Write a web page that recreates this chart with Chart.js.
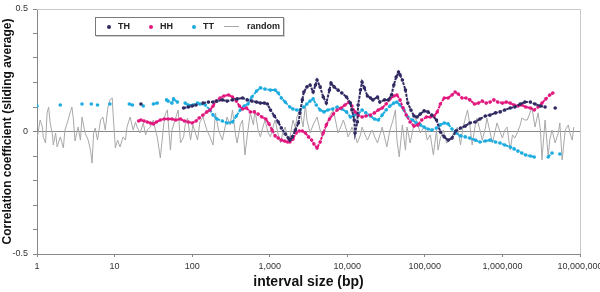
<!DOCTYPE html>
<html><head><meta charset="utf-8">
<script src="https://cdn.jsdelivr.net/npm/chart.js@4.4.1/dist/chart.umd.min.js"></script>
<style>
html,body{margin:0;padding:0;background:#fff;}
#wrap{position:relative;width:600px;height:292px;}
#legend{position:absolute;left:95px;top:17px;width:187px;height:17px;border:1px solid #7a7a7a;background:#fff;box-shadow:1px 1px 0 #d0d0d0;font:bold 9px 'Liberation Sans',Arial,sans-serif;color:#222;}
.item{position:absolute;top:0;height:17px;line-height:17px;white-space:nowrap;}
.dot{display:inline-block;width:4px;height:4px;border-radius:50%;vertical-align:middle;margin-right:7px;}
.ln{display:inline-block;width:15px;height:1px;vertical-align:middle;margin-right:8px;}
</style></head>
<body><div id="wrap"><canvas id="c" width="600" height="292"></canvas><div id="legend"></div></div>
<script>
const seriesNames = ['TH', 'HH', 'TT', 'random'];
const seriesColors = ['#2f2a62', '#e2187f', '#1dace0', '#a8a8a8'];
const xTickValues = [1, 10, 100, 1000, 10000, 100000, 1000000, 10000000];
const yTickLabels = [-0.5, 0, 0.5];

// each point: [log10(interval size, bp), correlation coefficient]
const thPoints = [[1.34,0.112],[1.89,0.096],[1.95,0.100],[2.00,0.104],[2.05,0.108],[2.14,0.116],[2.21,0.120],[2.27,0.120],[2.32,0.124],[2.39,0.129],[2.45,0.124],[2.52,0.129],[2.58,0.133],[2.65,0.137],[2.71,0.129],[2.77,0.124],[2.83,0.120],[2.88,0.116],[2.93,0.116],[2.97,0.112],[3.01,0.088],[3.06,0.063],[3.11,0.039],[3.15,0.014],[3.20,-0.010],[3.24,-0.027],[3.26,-0.035],[3.29,-0.022],[3.33,0.006],[3.37,0.035],[3.39,0.076],[3.42,0.129],[3.44,0.161],[3.48,0.182],[3.52,0.190],[3.56,0.161],[3.59,0.190],[3.61,0.210],[3.65,0.182],[3.69,0.141],[3.73,0.116],[3.77,0.169],[3.79,0.198],[3.83,0.182],[3.88,0.169],[3.93,0.157],[3.99,0.141],[4.04,0.116],[4.06,0.088],[4.09,0.047],[4.10,-0.006],[4.13,0.039],[4.14,0.108],[4.17,0.169],[4.19,0.202],[4.22,0.178],[4.26,0.145],[4.30,0.137],[4.33,0.129],[4.39,0.141],[4.42,0.120],[4.48,0.129],[4.53,0.129],[4.57,0.149],[4.60,0.190],[4.63,0.222],[4.66,0.243],[4.68,0.231],[4.71,0.210],[4.75,0.169],[4.78,0.116],[4.82,0.088],[4.86,0.063],[4.90,0.059],[4.94,0.071],[4.99,0.084],[5.04,0.080],[5.09,0.067],[5.15,0.047],[5.20,-0.002],[5.25,-0.022],[5.30,-0.035],[5.35,-0.027],[5.40,0.002],[5.46,0.014],[5.52,0.022],[5.58,0.035],[5.65,0.039],[5.71,0.051],[5.78,0.063],[5.84,0.067],[5.91,0.076],[5.97,0.080],[6.03,0.088],[6.10,0.096],[6.16,0.100],[6.23,0.112],[6.29,0.120],[6.36,0.120],[6.42,0.112],[6.49,0.104],[6.55,0.100],[6.68,0.096]];

const hhPoints = [[1.31,0.043],[1.34,0.047],[1.38,0.043],[1.42,0.039],[1.46,0.035],[1.50,0.031],[1.54,0.039],[1.59,0.047],[1.64,0.051],[1.69,0.051],[1.74,0.051],[1.79,0.047],[1.85,0.051],[1.90,0.043],[1.95,0.039],[2.00,0.035],[2.05,0.043],[2.09,0.055],[2.14,0.067],[2.19,0.080],[2.23,0.088],[2.27,0.104],[2.31,0.124],[2.36,0.137],[2.41,0.145],[2.47,0.149],[2.52,0.141],[2.57,0.124],[2.61,0.104],[2.65,0.092],[2.70,0.096],[2.75,0.080],[2.80,0.080],[2.85,0.071],[2.90,0.059],[2.95,0.051],[2.99,0.031],[3.03,0.006],[3.07,-0.018],[3.11,-0.027],[3.15,-0.035],[3.19,-0.039],[3.23,-0.043],[3.26,-0.043],[3.30,-0.031],[3.34,-0.006],[3.38,0.002],[3.42,0.002],[3.46,-0.006],[3.50,-0.022],[3.54,-0.035],[3.57,-0.051],[3.61,-0.067],[3.65,-0.043],[3.69,-0.006],[3.73,0.027],[3.77,0.051],[3.82,0.071],[3.87,0.088],[3.92,0.096],[3.97,0.108],[4.02,0.120],[4.06,0.104],[4.10,0.080],[4.14,0.067],[4.19,0.059],[4.24,0.063],[4.30,0.067],[4.35,0.076],[4.40,0.088],[4.45,0.096],[4.50,0.112],[4.55,0.133],[4.60,0.145],[4.64,0.149],[4.68,0.129],[4.72,0.096],[4.76,0.067],[4.81,0.039],[4.86,0.022],[4.91,0.027],[4.96,0.047],[5.02,0.059],[5.07,0.059],[5.12,0.063],[5.16,0.080],[5.20,0.112],[5.25,0.137],[5.30,0.137],[5.35,0.149],[5.39,0.161],[5.43,0.153],[5.48,0.137],[5.53,0.137],[5.58,0.129],[5.64,0.112],[5.69,0.116],[5.74,0.124],[5.79,0.116],[5.84,0.120],[5.89,0.129],[5.94,0.120],[6.00,0.116],[6.05,0.120],[6.10,0.116],[6.15,0.108],[6.20,0.104],[6.25,0.108],[6.30,0.100],[6.36,0.096],[6.41,0.088],[6.46,0.100],[6.51,0.116],[6.56,0.133],[6.61,0.149],[6.65,0.157]];

const ttPoints = [[0.00,0.104],[0.30,0.108],[0.58,0.112],[0.70,0.112],[0.78,0.108],[0.94,0.112],[1.19,0.112],[1.23,0.108],[1.37,0.104],[1.50,0.112],[1.55,0.116],[1.67,0.129],[1.69,0.124],[1.74,0.116],[1.76,0.133],[1.81,0.120],[1.91,0.116],[1.95,0.108],[2.01,0.108],[2.07,0.116],[2.10,0.112],[2.17,0.108],[2.23,0.088],[2.27,0.067],[2.32,0.051],[2.39,0.043],[2.45,0.035],[2.52,0.039],[2.57,0.063],[2.62,0.088],[2.67,0.104],[2.72,0.112],[2.77,0.141],[2.83,0.165],[2.88,0.178],[2.94,0.173],[3.01,0.169],[3.07,0.169],[3.11,0.157],[3.15,0.137],[3.20,0.120],[3.26,0.100],[3.30,0.092],[3.35,0.088],[3.39,0.088],[3.44,0.100],[3.48,0.112],[3.52,0.124],[3.56,0.133],[3.60,0.108],[3.65,0.088],[3.70,0.080],[3.75,0.088],[3.81,0.092],[3.87,0.100],[3.93,0.092],[3.99,0.080],[4.04,0.059],[4.09,0.067],[4.14,0.071],[4.19,0.088],[4.24,0.076],[4.30,0.063],[4.35,0.051],[4.40,0.047],[4.45,0.067],[4.50,0.088],[4.55,0.104],[4.60,0.116],[4.64,0.120],[4.68,0.108],[4.73,0.088],[4.78,0.059],[4.84,0.047],[4.89,0.035],[4.94,0.027],[4.99,0.018],[5.04,0.010],[5.09,0.006],[5.15,0.014],[5.20,0.027],[5.25,0.035],[5.30,0.031],[5.35,0.010],[5.40,-0.006],[5.46,-0.018],[5.52,-0.022],[5.58,-0.027],[5.65,-0.035],[5.71,-0.043],[5.78,-0.039],[5.84,-0.035],[5.91,-0.043],[5.97,-0.047],[6.03,-0.055],[6.10,-0.063],[6.15,-0.071],[6.20,-0.080],[6.25,-0.088],[6.30,-0.096],[6.36,-0.100],[6.41,-0.104],[6.59,-0.104],[6.64,-0.088],[6.74,-0.092]];

const randomPoints = [[0.00,-0.027],[0.02,0.006],[0.04,0.047],[0.07,0.018],[0.08,-0.022],[0.11,-0.047],[0.13,0.076],[0.15,0.100],[0.17,0.035],[0.20,-0.014],[0.21,-0.055],[0.24,-0.006],[0.26,-0.063],[0.30,-0.022],[0.34,-0.067],[0.36,0.006],[0.39,0.035],[0.43,0.080],[0.45,0.100],[0.47,0.047],[0.49,-0.039],[0.52,0.006],[0.53,0.018],[0.56,-0.035],[0.58,0.059],[0.62,-0.006],[0.66,-0.035],[0.69,-0.076],[0.71,-0.129],[0.73,-0.006],[0.75,0.014],[0.78,-0.035],[0.82,0.047],[0.85,0.059],[0.88,0.006],[0.91,0.088],[0.92,0.108],[0.94,0.129],[0.97,0.137],[0.98,0.076],[1.01,-0.067],[1.04,-0.035],[1.07,-0.063],[1.11,-0.022],[1.14,-0.035],[1.16,0.018],[1.20,0.059],[1.24,0.006],[1.27,0.039],[1.29,0.018],[1.33,-0.006],[1.37,0.035],[1.40,-0.014],[1.42,0.006],[1.46,0.018],[1.50,0.047],[1.52,0.014],[1.55,-0.022],[1.59,-0.108],[1.63,0.018],[1.65,0.067],[1.68,0.088],[1.72,-0.076],[1.74,0.006],[1.78,0.047],[1.82,0.088],[1.85,-0.047],[1.89,-0.022],[1.91,0.027],[1.94,0.055],[1.98,-0.035],[2.01,0.027],[2.07,-0.035],[2.10,0.039],[2.14,0.059],[2.19,0.006],[2.23,-0.022],[2.27,-0.055],[2.30,0.076],[2.34,0.006],[2.39,-0.035],[2.43,0.027],[2.45,0.059],[2.49,0.027],[2.52,0.088],[2.56,-0.014],[2.58,-0.047],[2.62,0.027],[2.65,0.047],[2.68,-0.096],[2.72,0.006],[2.75,0.076],[2.79,0.027],[2.81,0.088],[2.85,0.006],[2.88,-0.022],[2.92,0.027],[2.94,0.047],[2.98,-0.006],[3.01,-0.022],[3.05,0.027],[3.07,0.047],[3.11,-0.014],[3.14,-0.047],[3.17,-0.002],[3.20,0.018],[3.24,-0.035],[3.26,-0.022],[3.30,0.047],[3.33,0.014],[3.35,0.059],[3.39,0.088],[3.43,0.018],[3.46,0.108],[3.48,0.047],[3.52,-0.006],[3.56,0.027],[3.61,0.059],[3.65,0.006],[3.68,-0.022],[3.72,0.014],[3.74,0.035],[3.78,0.067],[3.82,0.088],[3.86,0.027],[3.88,-0.006],[3.91,0.014],[3.95,0.047],[3.99,0.006],[4.01,-0.022],[4.04,-0.002],[4.06,0.018],[4.10,-0.014],[4.13,-0.047],[4.17,-0.014],[4.19,0.018],[4.23,-0.014],[4.26,-0.035],[4.30,-0.006],[4.32,0.006],[4.36,-0.027],[4.39,-0.047],[4.42,-0.014],[4.45,0.018],[4.49,-0.035],[4.51,-0.063],[4.55,0.006],[4.59,0.047],[4.62,0.088],[4.64,-0.035],[4.67,-0.104],[4.71,0.027],[4.75,-0.076],[4.77,0.018],[4.81,-0.047],[4.85,0.014],[4.88,0.059],[4.91,0.027],[4.94,-0.006],[4.98,0.014],[5.00,0.018],[5.03,-0.035],[5.07,-0.014],[5.11,-0.096],[5.15,0.006],[5.17,-0.076],[5.20,-0.027],[5.24,0.006],[5.28,-0.047],[5.33,-0.035],[5.37,-0.006],[5.42,0.018],[5.46,-0.055],[5.49,0.014],[5.55,0.088],[5.58,0.027],[5.61,-0.055],[5.65,0.027],[5.67,0.055],[5.71,0.006],[5.74,-0.035],[5.78,0.014],[5.80,0.055],[5.84,-0.002],[5.87,-0.047],[5.91,0.006],[5.93,0.035],[5.97,-0.002],[6.00,-0.027],[6.03,0.006],[6.06,0.018],[6.10,-0.076],[6.13,-0.014],[6.16,-0.027],[6.19,-0.006],[6.23,0.027],[6.25,0.055],[6.29,0.047],[6.32,0.047],[6.36,0.080],[6.38,0.100],[6.42,0.018],[6.46,0.076],[6.49,0.006],[6.51,-0.116],[6.55,0.047],[6.59,-0.104],[6.61,-0.035],[6.64,0.006],[6.68,-0.047],[6.72,-0.006],[6.74,0.035],[6.77,-0.116],[6.81,0.006],[6.85,0.027],[6.87,-0.006],[6.90,-0.035],[6.92,0.018]];

const toXY = pts => pts.map(p => ({ x: Math.pow(10, p[0]), y: p[1] }));
const FONT = "'Liberation Sans', Arial, sans-serif";
const gapSeg = { borderColor: ctx => (ctx.p1.parsed.x / ctx.p0.parsed.x > 1.2 ? 'rgba(0,0,0,0)' : undefined) };

function markerSet(i, pts, order) {
  return {
    label: seriesNames[i], data: toXY(pts), showLine: true,
    borderColor: seriesColors[i], backgroundColor: seriesColors[i],
    borderWidth: 2, pointRadius: 1.8, pointBorderWidth: 0, pointHoverRadius: 1.8,
    borderDash: [3, 1],
    segment: gapSeg, order: order
  };
}

const frame = {
  id: 'frame',
  beforeDatasetsDraw(chart) {
    const { ctx, chartArea: a } = chart;
    ctx.save();
    ctx.strokeStyle = '#c8c8c8'; ctx.lineWidth = 1;
    ctx.beginPath();
    ctx.moveTo(a.left, Math.round(a.top) + 0.5);
    ctx.lineTo(Math.round(a.right) + 0.5, Math.round(a.top) + 0.5);
    ctx.lineTo(Math.round(a.right) + 0.5, a.bottom);
    ctx.stroke();
    ctx.restore();
  }
};

new Chart(document.getElementById('c'), {
  type: 'scatter',
  data: {
    datasets: [
      markerSet(0, thPoints, 1),
      markerSet(1, hhPoints, 2),
      markerSet(2, ttPoints, 3),
      { label: seriesNames[3], data: toXY(randomPoints), showLine: true, borderColor: seriesColors[3],
        borderWidth: 1, pointRadius: 0, pointHoverRadius: 0, order: 10 }
    ]
  },
  options: {
    responsive: false, animation: false, devicePixelRatio: 1,
    layout: { padding: { left: 0, right: 20, top: 9, bottom: 0 } },
    plugins: { legend: { display: false }, tooltip: { enabled: false } },
    scales: {
      x: {
        type: 'logarithmic', min: 1, max: 10000000,
        afterBuildTicks: s => { s.ticks = xTickValues.map(v => ({ value: v, major: true })); },
        afterFit: s => { s.height = 38; s.paddingLeft = 0; s.paddingRight = 0; },
        ticks: { autoSkip: false, maxRotation: 0, padding: 4, color: '#333', font: { family: FONT, size: 9 },
          callback: v => Number(v).toLocaleString('en-US') },
        grid: { drawOnChartArea: false, tickLength: 3, tickColor: '#888' },
        border: { color: '#888', width: 1 },
        title: { display: true, text: 'interval size (bp)', color: '#111', padding: { top: 0, bottom: 1 },
          font: { family: FONT, size: 14, weight: 'bold' } }
      },
      y: {
        min: -0.5, max: 0.5,
        afterBuildTicks: s => { s.ticks = [-0.5,-0.4,-0.3,-0.2,-0.1,0,0.1,0.2,0.3,0.4,0.5].map(v => ({ value: v })); },
        afterFit: s => { s.width = 37; s.paddingTop = 0; s.paddingBottom = 0; },
        ticks: { autoSkip: false, padding: 5, color: '#333', font: { family: FONT, size: 9 },
          callback: v => { const m = yTickLabels.find(t => Math.abs(t - v) < 1e-9); return m === undefined ? '' : String(m); } },
        grid: { drawOnChartArea: true, tickLength: 4, tickColor: '#888',
          color: c => (Math.abs(c.tick.value) < 1e-9 ? '#8a8a8a' : 'rgba(0,0,0,0)') },
        border: { color: '#888', width: 1 },
        title: { display: true, text: 'Correlation coefficient (sliding average)', color: '#111', padding: { top: 0, bottom: 0 },
          font: { family: FONT, size: 12, weight: 'bold' } }
      }
    }
  },
  plugins: [frame]
});

// HTML legend built from the series names / colours
const legendPos = [11, 53, 96, 128];
const legend = document.getElementById('legend');
seriesNames.forEach((name, i) => {
  const it = document.createElement('div');
  it.className = 'item'; it.style.left = legendPos[i] + 'px';
  const m = document.createElement('span');
  m.className = i === 3 ? 'ln' : 'dot';
  m.style.background = seriesColors[i];
  it.appendChild(m);
  it.appendChild(document.createTextNode(name));
  legend.appendChild(it);
});
</script>
</body></html>
